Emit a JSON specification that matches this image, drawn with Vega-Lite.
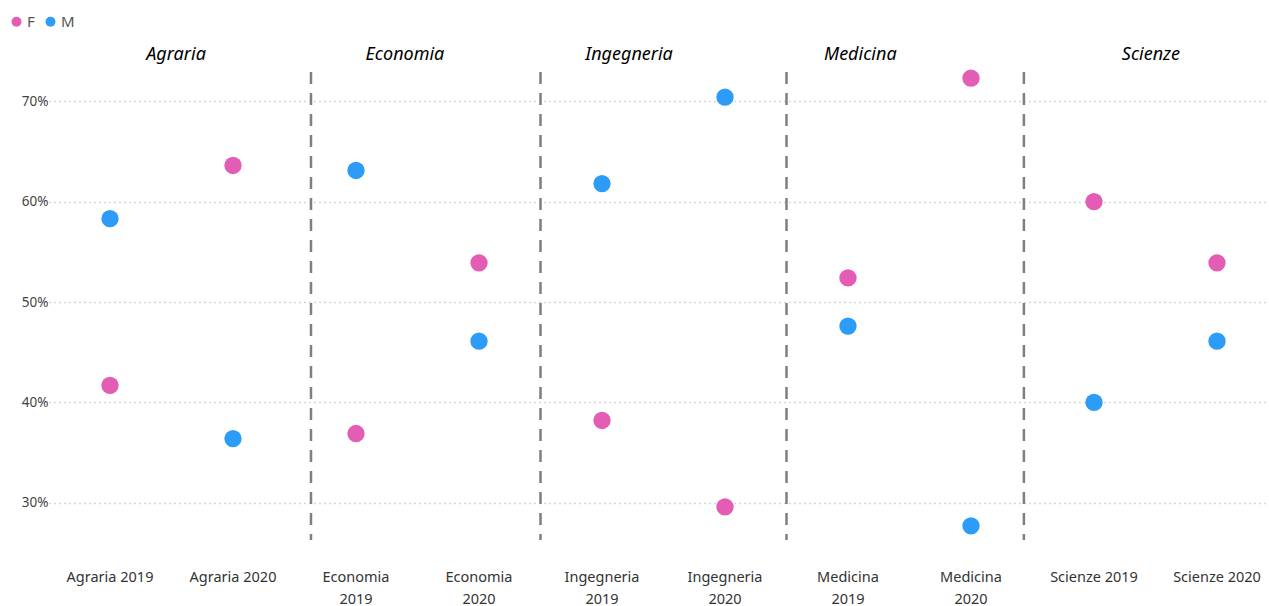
{
  "$schema": "https://vega.github.io/schema/vega-lite/v6.json",
  "autosize": "none",
  "width": 1211,
  "height": 507,
  "padding": {"left": 58, "top": 46, "right": 0, "bottom": 53},
  "config": {
    "view": {"stroke": null},
    "font": "Noto Sans",
    "axis": {"labelFont": "Noto Sans", "labelColor": "#444444"}
  },
  "datasets": {
    "pts": [
      {"cat": "Agraria 2019", "sex": "F", "value": 41.7},
      {"cat": "Agraria 2019", "sex": "M", "value": 58.3},
      {"cat": "Agraria 2020", "sex": "F", "value": 63.6},
      {"cat": "Agraria 2020", "sex": "M", "value": 36.4},
      {"cat": "Economia 2019", "sex": "F", "value": 36.9},
      {"cat": "Economia 2019", "sex": "M", "value": 63.1},
      {"cat": "Economia 2020", "sex": "F", "value": 53.9},
      {"cat": "Economia 2020", "sex": "M", "value": 46.1},
      {"cat": "Ingegneria 2019", "sex": "F", "value": 38.2},
      {"cat": "Ingegneria 2019", "sex": "M", "value": 61.8},
      {"cat": "Ingegneria 2020", "sex": "F", "value": 29.6},
      {"cat": "Ingegneria 2020", "sex": "M", "value": 70.4},
      {"cat": "Medicina 2019", "sex": "F", "value": 52.4},
      {"cat": "Medicina 2019", "sex": "M", "value": 47.6},
      {"cat": "Medicina 2020", "sex": "F", "value": 72.3},
      {"cat": "Medicina 2020", "sex": "M", "value": 27.7},
      {"cat": "Scienze 2019", "sex": "F", "value": 60.0},
      {"cat": "Scienze 2019", "sex": "M", "value": 40.0},
      {"cat": "Scienze 2020", "sex": "F", "value": 53.9},
      {"cat": "Scienze 2020", "sex": "M", "value": 46.1}
    ],
    "groups": [
      {"group": "Agraria", "first": "Agraria 2019", "last": "Agraria 2020"},
      {"group": "Economia", "first": "Economia 2019", "last": "Economia 2020"},
      {"group": "Ingegneria", "first": "Ingegneria 2019", "last": "Ingegneria 2020"},
      {"group": "Medicina", "first": "Medicina 2019", "last": "Medicina 2020"},
      {"group": "Scienze", "first": "Scienze 2019", "last": "Scienze 2020"}
    ]
  },
  "resolve": {"scale": {"x": "shared", "y": "shared"}},
  "layer": [
    {
      "data": {"name": "pts"},
      "mark": {"type": "circle", "size": 300, "opacity": 1},
      "encoding": {
        "x": {
          "field": "cat", "type": "nominal",
          "sort": null,
          "scale": {"range": [-9.5, 1220.5], "paddingInner": 0, "paddingOuter": 0},
          "axis": {
            "title": null, "labelAngle": 0, "domain": false, "ticks": false, "grid": false,
            "labelPadding": 17, "labelFontSize": 14.5, "labelLineHeight": 22, "labelColor": "#333333",
            "labelExpr": "length(datum.label) > 12 ? split(datum.label, ' ') : datum.label"
          }
        },
        "y": {
          "field": "value", "type": "quantitative",
          "scale": {"domain": [25, 75.5], "nice": false, "zero": false},
          "axis": {
            "title": null, "values": [30, 40, 50, 60, 70], "domain": false, "ticks": false,
            "labelExpr": "datum.value + '%'", "labelFontSize": 13.5, "labelPadding": 10,
            "grid": true, "gridDash": [2, 3], "gridColor": "#D6D6D6", "gridWidth": 1.5
          }
        },
        "color": {
          "field": "sex", "type": "nominal",
          "scale": {"domain": ["F", "M"], "range": ["#E35DB5", "#2D9CF9"]},
          "legend": {
            "title": null, "orient": "none", "direction": "horizontal",
            "legendX": -49, "legendY": -32, "symbolType": "circle", "symbolSize": 100,
            "labelFontSize": 15, "labelColor": "#555555", "columnPadding": 8, "labelOffset": 3
          }
        }
      }
    },
    {
      "data": {"name": "groups"},
      "transform": [{"filter": "datum.group === 'Agraria'"}],
      "mark": {"type": "rule", "strokeDash": [12, 9], "strokeWidth": 2.5, "color": "#7F7F7F"},
      "encoding": {
        "x": {"field": "last", "type": "nominal", "bandPosition": 1.134},
        "y": {"datum": 72.9, "type": "quantitative"},
        "y2": {"datum": 26.3}
      }
    },
    {
      "data": {"name": "groups"},
      "transform": [{"filter": "datum.group === 'Economia' || datum.group === 'Ingegneria'"}],
      "mark": {"type": "rule", "strokeDash": [12, 9], "strokeWidth": 2.5, "color": "#7F7F7F"},
      "encoding": {
        "x": {"field": "last", "type": "nominal", "bandPosition": 1},
        "y": {"datum": 72.9, "type": "quantitative"},
        "y2": {"datum": 26.3}
      }
    },
    {
      "data": {"name": "groups"},
      "transform": [{"filter": "datum.group === 'Medicina'"}],
      "mark": {"type": "rule", "strokeDash": [12, 9], "strokeWidth": 2.5, "color": "#7F7F7F"},
      "encoding": {
        "x": {"field": "last", "type": "nominal", "bandPosition": 0.93},
        "y": {"datum": 72.9, "type": "quantitative"},
        "y2": {"datum": 26.3}
      }
    },
    {
      "data": {"name": "groups"},
      "transform": [{"filter": "datum.group === 'Agraria'"}],
      "mark": {"type": "text", "fontStyle": "italic", "fontSize": 18, "color": "#000000", "baseline": "middle"},
      "encoding": {
        "x": {"field": "first", "type": "nominal", "bandPosition": 1.037},
        "y": {"datum": 74.6, "type": "quantitative"},
        "text": {"field": "group"}
      }
    },
    {
      "data": {"name": "groups"},
      "transform": [{"filter": "datum.group === 'Economia'"}],
      "mark": {"type": "text", "fontStyle": "italic", "fontSize": 18, "color": "#000000", "baseline": "middle"},
      "encoding": {
        "x": {"field": "first", "type": "nominal", "bandPosition": 0.898},
        "y": {"datum": 74.6, "type": "quantitative"},
        "text": {"field": "group"}
      }
    },
    {
      "data": {"name": "groups"},
      "transform": [{"filter": "datum.group === 'Ingegneria'"}],
      "mark": {"type": "text", "fontStyle": "italic", "fontSize": 18, "color": "#000000", "baseline": "middle"},
      "encoding": {
        "x": {"field": "first", "type": "nominal", "bandPosition": 0.72},
        "y": {"datum": 74.6, "type": "quantitative"},
        "text": {"field": "group"}
      }
    },
    {
      "data": {"name": "groups"},
      "transform": [{"filter": "datum.group === 'Medicina'"}],
      "mark": {"type": "text", "fontStyle": "italic", "fontSize": 18, "color": "#000000", "baseline": "middle"},
      "encoding": {
        "x": {"field": "first", "type": "nominal", "bandPosition": 0.6},
        "y": {"datum": 74.6, "type": "quantitative"},
        "text": {"field": "group"}
      }
    },
    {
      "data": {"name": "groups"},
      "transform": [{"filter": "datum.group === 'Scienze'"}],
      "mark": {"type": "text", "fontStyle": "italic", "fontSize": 18, "color": "#000000", "baseline": "middle"},
      "encoding": {
        "x": {"field": "first", "type": "nominal", "bandPosition": 0.963},
        "y": {"datum": 74.6, "type": "quantitative"},
        "text": {"field": "group"}
      }
    }
  ]
}
